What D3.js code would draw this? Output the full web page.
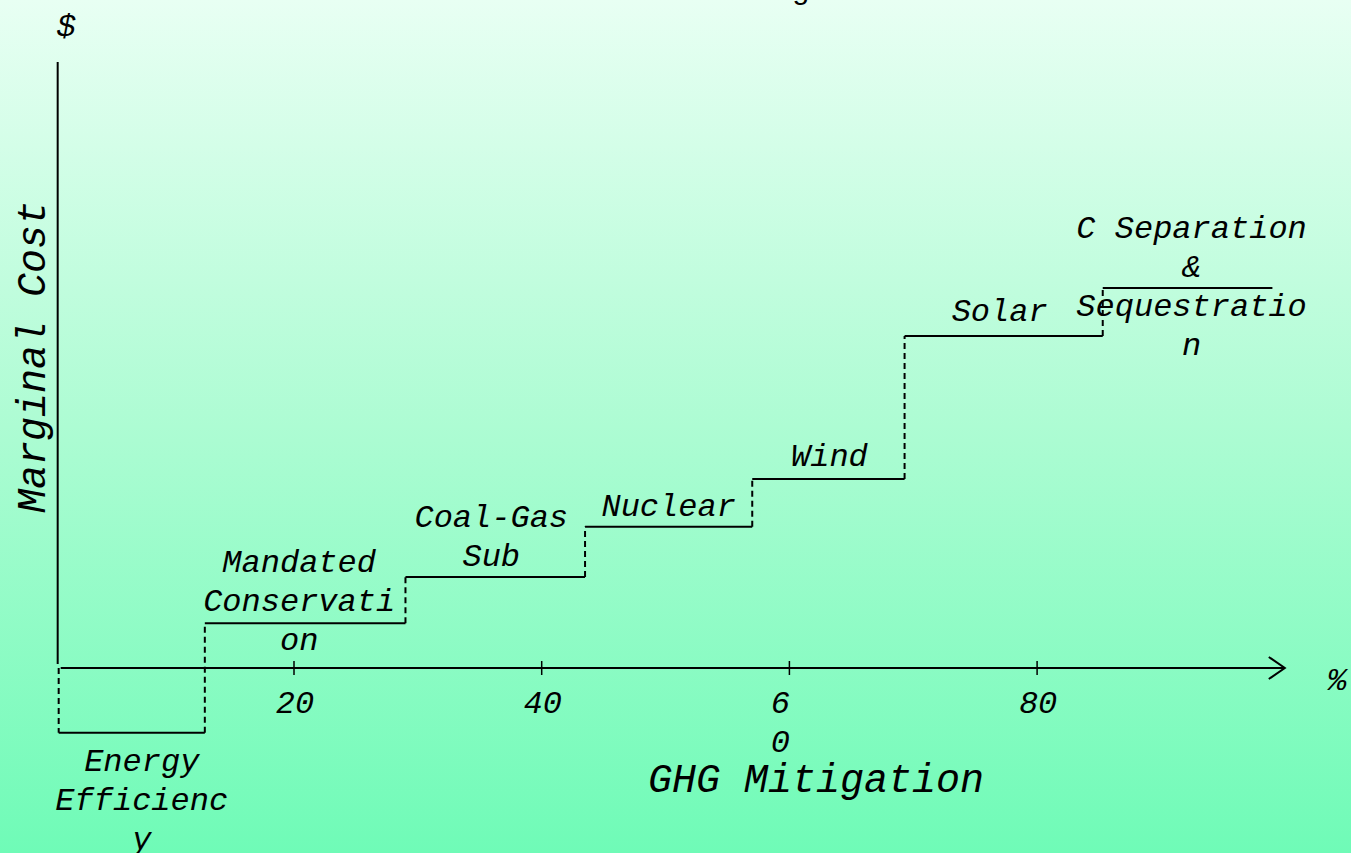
<!DOCTYPE html>
<html>
<head>
<meta charset="utf-8">
<script src="https://cdn.jsdelivr.net/npm/d3@7/dist/d3.min.js"></script>
<style>
  html, body { margin: 0; padding: 0; overflow: hidden; }
  svg { display: block; }
  .mono { font-family: "Liberation Mono", "Courier New", monospace; font-style: italic; fill: #000; }
</style>
</head>
<body>
<div id="chart"></div>
<script>
// Marginal cost curve of GHG mitigation options (step chart)
const STEP_LABELS = [
  ["Energy", "Efficienc", "y"],
  ["Mandated", "Conservati", "on"],
  ["Coal-Gas", "Sub"],
  ["Nuclear"],
  ["Wind"],
  ["Solar"],
  ["C Separation", "&", "Sequestratio", "n"]
];
const STEP_START = [1, 12.8, 29, 43.5, 57, 69.3, 85.3];
const STEP_END   = [12.8, 29, 43.5, 57, 69.3, 85.3, 99];
const STEP_COST  = [-10.7, 7.4, 15, 23.3, 31.2, 54.8, 62.7];

const TICK_VALUES = [20, 40, 60, 80];
const TICK_LABELS = [["20"], ["40"], ["6", "0"], ["80"]];

const TITLE   = "Cost of GHG Mitigation";
const X_TITLE = "GHG Mitigation";
const Y_TITLE = "Marginal Cost";
const X_UNIT  = "%";
const Y_UNIT  = "$";

// layout only: label nudges [dx, dy] relative to step midpoint / level
const LABEL_NUDGE = [[10, 38], [-6, -51], [-4, -50], [0, -11], [1, -13], [-4, -15], [4, -50]];
const LINE_H = 39;

const W = 1351, H = 853;

const svg = d3.select("#chart").append("svg").attr("width", W).attr("height", H);

const grad = svg.append("defs").append("linearGradient")
  .attr("id", "bg").attr("x1", 0).attr("y1", 0).attr("x2", 0).attr("y2", 1);
grad.append("stop").attr("offset", 0).attr("stop-color", "#e8fff3");
grad.append("stop").attr("offset", 0.5).attr("stop-color", "#adfcd3");
grad.append("stop").attr("offset", 1).attr("stop-color", "#6ffbb7");
svg.append("rect").attr("width", W).attr("height", H).attr("fill", "url(#bg)");

const x = d3.scaleLinear().domain([0, 100]).range([46.3, 1284.8]);
const y = d3.scaleLinear().domain([0, 100]).range([668, 62]);

// title (mostly off the top edge)
svg.append("text").attr("x", 720).attr("y", -1)
  .attr("text-anchor", "middle").attr("font-family", "'Liberation Sans', Arial, sans-serif")
  .attr("font-size", 30).attr("fill", "#000").text(TITLE);

// y axis
svg.append("line")
  .attr("x1", x(STEP_START[0]) - 1).attr("x2", x(STEP_START[0]) - 1)
  .attr("y1", y(100)).attr("y2", y(0) - 4)
  .attr("stroke", "#000").attr("stroke-width", 2);

// x axis with open arrow head
svg.append("line")
  .attr("x1", x(STEP_START[0]) + 2).attr("x2", x(100))
  .attr("y1", y(0)).attr("y2", y(0))
  .attr("stroke", "#000").attr("stroke-width", 2);
svg.append("path")
  .attr("d", `M${x(100) - 16},${y(0) - 11}L${x(100)},${y(0)}L${x(100) - 16},${y(0) + 11}`)
  .attr("fill", "none").attr("stroke", "#000").attr("stroke-width", 2);

// ticks
svg.selectAll(".tick").data(TICK_VALUES).join("line")
  .attr("class", "tick")
  .attr("x1", d => x(d)).attr("x2", d => x(d))
  .attr("y1", y(0) - 7).attr("y2", y(0) + 7)
  .attr("stroke", "#000").attr("stroke-width", 1.5);

const tickText = svg.selectAll(".tick-label").data(TICK_VALUES).join("text")
  .attr("class", "tick-label mono")
  .attr("font-size", 32).attr("text-anchor", "middle")
  .attr("y", y(0) + 45);
tickText.each(function (d, i) {
  d3.select(this).selectAll("tspan").data(TICK_LABELS[i]).join("tspan")
    .attr("x", x(d) + (TICK_LABELS[i].length > 1 ? -9 : 1))
    .attr("dy", (t, j) => j === 0 ? 0 : LINE_H)
    .text(t => t);
});

// steps: solid treads, dashed risers
const idx = d3.range(STEP_COST.length);
svg.selectAll(".tread").data(idx).join("line")
  .attr("class", "tread")
  .attr("x1", i => x(STEP_START[i])).attr("x2", i => x(STEP_END[i]))
  .attr("y1", i => y(STEP_COST[i])).attr("y2", i => y(STEP_COST[i]))
  .attr("stroke", "#000").attr("stroke-width", 2);

svg.selectAll(".riser").data(idx).join("line")
  .attr("class", "riser")
  .attr("x1", i => x(STEP_START[i])).attr("x2", i => x(STEP_START[i]))
  .attr("y1", i => y(i === 0 ? 0 : STEP_COST[i - 1]))
  .attr("y2", i => y(STEP_COST[i]))
  .attr("stroke", "#000").attr("stroke-width", 2)
  .attr("stroke-dasharray", "6,4");

// step labels
svg.selectAll(".step-label").data(idx).join("text")
  .attr("class", "step-label mono")
  .attr("font-size", 32).attr("text-anchor", "middle")
  .attr("y", i => y(STEP_COST[i]) + LABEL_NUDGE[i][1])
  .each(function (i) {
    const cx = (x(STEP_START[i]) + x(STEP_END[i])) / 2 + LABEL_NUDGE[i][0];
    d3.select(this).selectAll("tspan").data(STEP_LABELS[i]).join("tspan")
      .attr("x", cx)
      .attr("dy", (t, j) => j === 0 ? 0 : LINE_H)
      .text(t => t);
  });

// axis titles and units
svg.append("text").attr("class", "mono")
  .attr("x", 816).attr("y", 792).attr("text-anchor", "middle")
  .attr("font-size", 40).text(X_TITLE);

svg.append("text").attr("class", "mono")
  .attr("transform", "translate(45,357) rotate(-90)")
  .attr("text-anchor", "middle").attr("font-size", 40).text(Y_TITLE);

svg.append("text").attr("class", "mono")
  .attr("x", 1337).attr("y", 690).attr("text-anchor", "middle")
  .attr("font-size", 32).text(X_UNIT);

svg.append("text").attr("class", "mono")
  .attr("x", 66).attr("y", 36).attr("text-anchor", "middle")
  .attr("font-size", 32).text(Y_UNIT);
</script>
</body>
</html>
